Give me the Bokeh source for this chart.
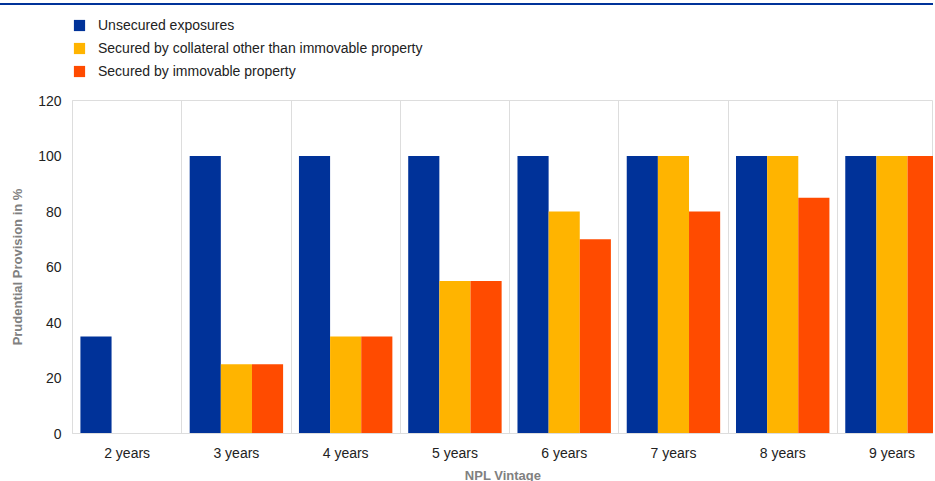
from bokeh.plotting import figure
from bokeh.models import ColumnDataSource, FixedTicker, Legend, LegendItem, Range1d, Div
from bokeh.layouts import column
from bokeh.embed import file_html
from bokeh.resources import INLINE

vintages = ["2 years", "3 years", "4 years", "5 years", "6 years", "7 years", "8 years", "9 years"]
unsecured = [35, 100, 100, 100, 100, 100, 100, 100]
collateral = [0, 25, 35, 55, 80, 100, 100, 100]
immovable = [0, 25, 35, 55, 70, 80, 85, 100]

series = [
    ("Unsecured exposures", unsecured, "#003299"),
    ("Secured by collateral other than immovable property", collateral, "#ffb400"),
    ("Secured by immovable property", immovable, "#ff4b00"),
]

bw = 0.285
xs = list(range(len(vintages)))

p = figure(width=933, height=394, output_backend="svg", toolbar_location=None, tools="",
           x_range=Range1d(-0.5, 7.38), y_range=Range1d(0, 120),
           min_border_left=72, min_border_right=0, min_border_top=9, min_border_bottom=46)

# legend lives in its own small figure above the chart
lf = figure(width=933, height=86, output_backend="svg", toolbar_location=None, tools="",
            x_range=Range1d(0, 1), y_range=Range1d(0, 1), min_border=0)
lf.axis.visible = False
lf.grid.visible = False
lf.outline_line_color = None

items = []
for i, (name, vals, col) in enumerate(series):
    src = ColumnDataSource(dict(x=[x + (i - 1) * bw for x in xs], top=vals))
    p.vbar(x="x", top="top", width=bw, source=src, color=col, line_color=None)
    lr = lf.quad(left=[5], right=[6], bottom=[5], top=[6], color=col, line_color=None)
    items.append(LegendItem(label=name, renderers=[lr]))

legend = Legend(items=items, orientation="vertical", location=(0, 12),
                label_text_font="Liberation Sans", label_text_font_size="14px",
                label_text_color="#222222", glyph_width=14, glyph_height=14,
                spacing=7, padding=0, margin=0, border_line_color=None,
                background_fill_alpha=0, label_standoff=12, label_height=14)
lf.add_layout(legend, "center")

p.outline_line_color = "#dddddd"
p.ygrid.grid_line_color = None
p.xgrid.ticker = FixedTicker(ticks=[x + 0.5 for x in xs[:-1]])
p.xgrid.grid_line_color = "#dddddd"

p.xaxis.ticker = FixedTicker(ticks=xs)
p.xaxis.major_label_overrides = {i: v for i, v in enumerate(vintages)}
p.yaxis.ticker = FixedTicker(ticks=[0, 20, 40, 60, 80, 100, 120])
for ax in (p.xaxis[0], p.yaxis[0]):
    ax.axis_line_color = "#dddddd"
    ax.major_tick_line_color = None
    ax.minor_tick_line_color = None
    ax.major_label_text_font = "Liberation Sans"
    ax.major_label_text_font_size = "14px"
    ax.major_label_text_color = "#222222"
    ax.axis_label_text_font = "Liberation Sans"
    ax.axis_label_text_font_size = "13px"
    ax.axis_label_text_font_style = "bold"
    ax.axis_label_text_color = "#808080"
p.xaxis.axis_label = "NPL Vintage"
p.xaxis.axis_label_standoff = 4
p.yaxis.axis_label = "Prudential Provision in %"
p.yaxis.axis_label_standoff = 10

bar = Div(text="", width=933, height=2, styles={"background-color": "#003299"}, margin=(3, 0, 0, 0))
layout = column(bar, lf, p, spacing=0)

open("out.html", "w").write(file_html(layout, INLINE))
